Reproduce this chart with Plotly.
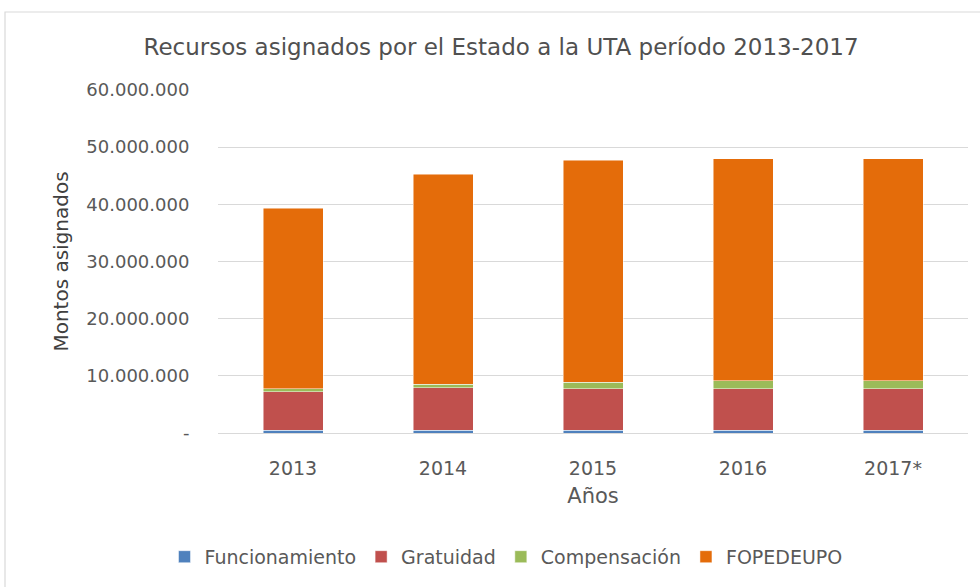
import plotly.graph_objects as go

years = ["2013", "2014", "2015", "2016", "2017*"]
funcionamiento = [500000, 500000, 500000, 500000, 500000]
gratuidad = [6700000, 7400000, 7200000, 7200000, 7200000]
compensacion = [550000, 650000, 1200000, 1450000, 1450000]
fopedeupo = [31550000, 36700000, 38800000, 38850000, 38850000]

tick_vals = [0, 10000000, 20000000, 30000000, 40000000, 50000000, 60000000]
tick_text = ["-", "10.000.000", "20.000.000", "30.000.000", "40.000.000", "50.000.000", "60.000.000"]

series = [
    ("Funcionamiento", funcionamiento, "#4F81BD"),
    ("Gratuidad", gratuidad, "#C0504D"),
    ("Compensación", compensacion, "#9BBB59"),
    ("FOPEDEUPO", fopedeupo, "#E46C0A"),
]

FONT = "DejaVu Sans"
GREY = "#595959"

fig = go.Figure()
for name, vals, col in series:
    fig.add_trace(go.Bar(
        x=years, y=vals, name=name,
        marker=dict(color=col, line=dict(color="rgba(255,255,255,0.6)", width=0.8)),
    ))

fig.update_layout(
    width=980, height=587,
    barmode="stack", bargap=0.6,
    paper_bgcolor="white", plot_bgcolor="white",
    margin=dict(l=218, r=12, t=90, b=154, autoexpand=False),
    font=dict(family=FONT, color=GREY),
    title=dict(text="Recursos asignados por el Estado a la UTA período 2013-2017",
               x=501 / 980, xanchor="center", xref="container", y=1 - 47 / 587, yanchor="middle",
               font=dict(family=FONT, size=23, color="#505050")),
    legend=dict(orientation="h", x=(506 - 218) / 750, xanchor="center", xref="paper",
                y=-0.361, yanchor="middle", font=dict(family=FONT, size=19, color=GREY),
                traceorder="normal"),
    yaxis=dict(range=[0, 60000000], tickvals=tick_vals, ticktext=tick_text,
               showgrid=True, gridcolor="#D9D9D9", gridwidth=1,
               zeroline=False, showline=False,
               ticks="outside", ticklen=24, tickcolor="rgba(0,0,0,0)",
               tickfont=dict(family=FONT, size=18, color=GREY),
               title=dict(text="Montos asignados", standoff=12,
                          font=dict(family=FONT, size=20, color="#404040"))),
    xaxis=dict(showgrid=False, showline=True, linecolor="#D9D9D9", linewidth=1,
               ticks="outside", ticklen=18, tickcolor="rgba(0,0,0,0)", tickangle=0,
               tickfont=dict(family=FONT, size=19, color=GREY),
               title=dict(text="Años", standoff=10,
                          font=dict(family=FONT, size=21, color=GREY))),
)

# outer chart-area border (Excel style)
fig.add_shape(type="rect", xref="paper", yref="paper",
              x0=(5 - 218) / 750, x1=(1000 - 218) / 750,
              y0=(433 - 600) / 343, y1=(433 - 12) / 343,
              line=dict(color="#D9D9D9", width=1.2), fillcolor="rgba(0,0,0,0)", layer="below")

fig.write_html("out.html", config={"displayModeBar": False},
               post_script="document.body.style.margin='0';document.body.style.padding='0';")
